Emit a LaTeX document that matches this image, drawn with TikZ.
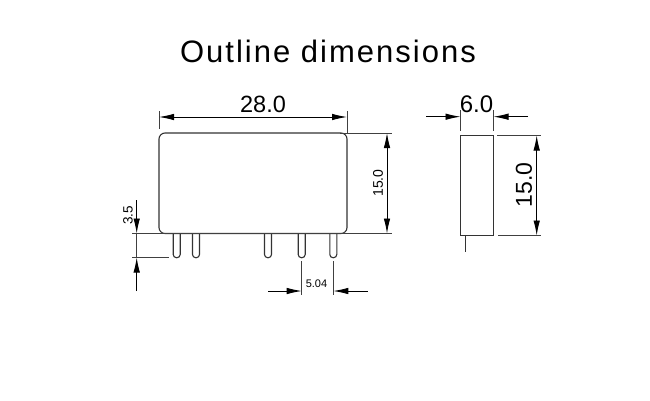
\documentclass[tikz,border=0pt]{standalone}
\usepackage{fontspec}
\setmainfont{Liberation Sans}
\usetikzlibrary{arrows.meta}
\tikzset{
  outline/.style={draw=black!80,line width=1.1pt},
  dimline/.style={draw=black,line width=0.9pt,{Latex[length=15pt,width=6.5pt]}-{Latex[length=15pt,width=6.5pt]}},
  dimtip/.style={draw=black,line width=0.9pt,-{Latex[length=15pt,width=6.5pt]}},
  extline/.style={draw=black!75,line width=1pt},
  pinbox/.style={draw=black!80,line width=1.1pt,rounded corners=3.2pt}
}
\begin{document}
\begin{tikzpicture}[x=1pt,y=-1pt]
\useasboundingbox (0,0) rectangle (650,400);
\node (title) at (328,51) {\fontsize{31}{36}\selectfont\addfontfeature{LetterSpace=6.5}Outline dimensions};
% front view
\draw[outline,rounded corners=6pt] (159,233.5) -- (159,133) -- (347,133) -- (347,233.5) -- cycle;
\foreach \px in {176.7,196,268,301.7,333.3}
  \draw[pinbox] (\px-3.5,233.5) -- (\px-3.5,257.7) -- (\px+3.5,257.7) -- (\px+3.5,233.5);
\coordinate (wl) at (159,117);
\coordinate (wr) at (347,117);
\coordinate (wlu) at (159,111);
\coordinate (wld) at (159,129);
\coordinate (wru) at (347,111);
\coordinate (wrd) at (347,133);
\draw[extline] (wlu) -- (wld);
\draw[extline] (wru) -- (wrd);
\draw[dimline] (wl) -- (wr);
\node[font=\fontsize{23.5}{26}\selectfont] (w) at (263,104) {28.0};
\coordinate (ht) at (387,133);
\coordinate (hb) at (387,233.5);
\coordinate (htl) at (340,133);
\coordinate (htr) at (392,133);
\coordinate (hbl) at (165,233.5);
\coordinate (hbr) at (392,233.5);
\draw[extline] (htl) -- (htr);
\draw[extline] (hbl) -- (hbr);
\draw[dimline] (ht) -- (hb);
\node[font=\fontsize{14}{16}\selectfont,rotate=90] (h) at (378,183) {15.0};
% pin length
\coordinate (pt) at (136.7,200);
\coordinate (pa) at (136.7,233.5);
\coordinate (pb) at (136.7,257.5);
\coordinate (pe) at (136.7,291);
\coordinate (pal) at (132,233.5);
\coordinate (par) at (170,233.5);
\coordinate (pbl) at (132,257.5);
\coordinate (pbr) at (169,257.5);
\draw[extline] (pal) -- (par);
\draw[extline] (pbl) -- (pbr);
\draw[dimtip] (pt) -- (pa);
\draw[dimtip] (pe) -- (pb);
\draw[extline] (pa) -- (pb);
\node[font=\fontsize{13.5}{15}\selectfont,rotate=90] (p) at (128,215.5) {3.5};
% pin pitch
\coordinate (sl) at (301.7,291);
\coordinate (sr) at (333.3,291);
\coordinate (sle) at (268,291);
\coordinate (sre) at (367.6,291);
\coordinate (slt) at (301.7,261);
\coordinate (slb) at (301.7,295);
\coordinate (srt) at (333.3,261);
\coordinate (srb) at (333.3,295);
\draw[extline] (slt) -- (slb);
\draw[extline] (srt) -- (srb);
\draw[dimtip] (sle) -- (sl);
\draw[dimtip] (sre) -- (sr);
\node[font=\fontsize{11}{13}\selectfont] (s) at (316.5,283.5) {5.04};
% side view
\draw[outline] (460.5,135.5) rectangle (493.5,235.5);
\coordinate (ppt) at (465.5,235.5);
\coordinate (ppb) at (465.5,252);
\draw[outline,line width=1.6pt] (ppt) -- (ppb);
\coordinate (dl) at (460.5,116.7);
\coordinate (dr) at (493.5,116.7);
\coordinate (dle) at (426,116.7);
\coordinate (dre) at (528,116.7);
\coordinate (dlu) at (460.5,110);
\coordinate (dld) at (460.5,131);
\coordinate (dru) at (493.5,110);
\coordinate (drd) at (493.5,131);
\draw[extline] (dlu) -- (dld);
\draw[extline] (dru) -- (drd);
\draw[dimtip] (dle) -- (dl);
\draw[dimtip] (dre) -- (dr);
\node[font=\fontsize{24}{26}\selectfont] (d) at (476.5,104) {6.0};
\coordinate (kt) at (536.7,135.5);
\coordinate (kb) at (536.7,235.5);
\coordinate (ktl) at (497,135.5);
\coordinate (ktr) at (541,135.5);
\coordinate (kbl) at (498,235.5);
\coordinate (kbr) at (541,235.5);
\draw[extline] (ktl) -- (ktr);
\draw[extline] (kbl) -- (kbr);
\draw[dimline] (kt) -- (kb);
\node[font=\fontsize{23}{26}\selectfont,rotate=90] (k) at (524,185) {15.0};
\end{tikzpicture}
\end{document}
